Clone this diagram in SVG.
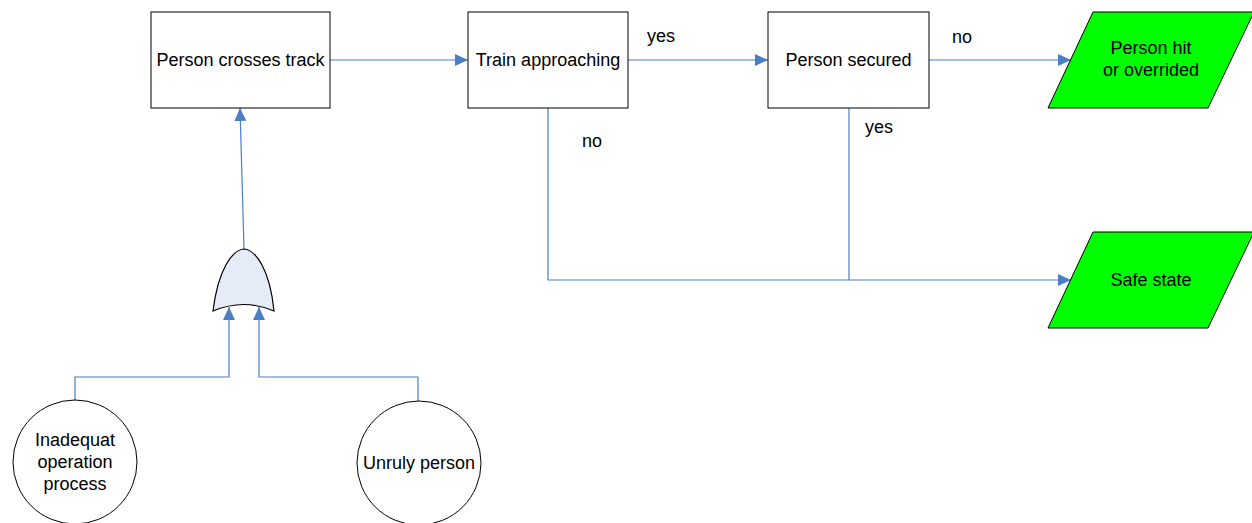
<svg xmlns="http://www.w3.org/2000/svg" width="1252" height="523" viewBox="0 0 1252 523">
<style>
.box{fill:#fff;stroke:#000;stroke-width:1}
.term{fill:#00FF00;stroke:#000;stroke-width:1}
.evt{fill:#fff;stroke:#000;stroke-width:1}
.gate{fill:#E6ECF7;stroke:#000;stroke-width:1.2}
.ln{fill:none;stroke:#4A7EC7;stroke-width:1.2}
text{font-family:"Liberation Sans",Arial,sans-serif;font-size:18px;fill:#000;text-anchor:middle}
</style>
<defs>
<marker id="ah" markerWidth="14" markerHeight="12" refX="13" refY="6" orient="auto" markerUnits="userSpaceOnUse">
<path d="M0,0 L13,6 L0,12 Z" fill="#4A7EC7"/>
</marker>
</defs>
<rect width="1252" height="523" fill="#fff"/>
<g id="connectors">
<path class="ln" d="M330,60 H468" marker-end="url(#ah)"/>
<path class="ln" d="M628,60 H768" marker-end="url(#ah)"/>
<path class="ln" d="M929,60 H1071" marker-end="url(#ah)"/>
<path class="ln" d="M548,108 V280 H1071" marker-end="url(#ah)"/>
<path class="ln" d="M849,108 V280"/>
<path class="ln" d="M244,249 L240,108" marker-end="url(#ah)"/>
<path class="ln" d="M75,400 V377 H229 V307" marker-end="url(#ah)"/>
<path class="ln" d="M418,401 V377 H259 V307" marker-end="url(#ah)"/>
<text x="661" y="42">yes</text>
<text x="962" y="43">no</text>
<text x="592" y="147">no</text>
<text x="879" y="133">yes</text>
</g>
<g id="person-crosses-track">
<rect class="box" x="151" y="12" width="179" height="96"/>
<text x="240.5" y="66">Person crosses track</text>
</g>
<g id="train-approaching">
<rect class="box" x="468" y="12" width="160" height="96"/>
<text x="548" y="66">Train approaching</text>
</g>
<g id="person-secured">
<rect class="box" x="768" y="12" width="161" height="96"/>
<text x="848.5" y="66">Person secured</text>
</g>
<g id="person-hit">
<polygon class="term" points="1093,12 1254,12 1208,108 1048,108"/>
<text x="1151" y="54">Person hit</text>
<text x="1151" y="76">or overrided</text>
</g>
<g id="safe-state">
<polygon class="term" points="1093,232 1254,232 1208,328 1048,328"/>
<text x="1151" y="286">Safe state</text>
</g>
<g id="or-gate">
<path class="gate" d="M213,311 C218,270 232,250 244,249 C256,250 270,270 274,311 Q244,298 213,311 Z"/>
</g>
<g id="inadequat-operation-process">
<circle class="evt" cx="75" cy="462" r="62"/>
<text x="75" y="446">Inadequat</text>
<text x="75" y="468">operation</text>
<text x="75" y="490">process</text>
</g>
<g id="unruly-person">
<circle class="evt" cx="419" cy="463" r="62"/>
<text x="419" y="469">Unruly person</text>
</g>
</svg>
